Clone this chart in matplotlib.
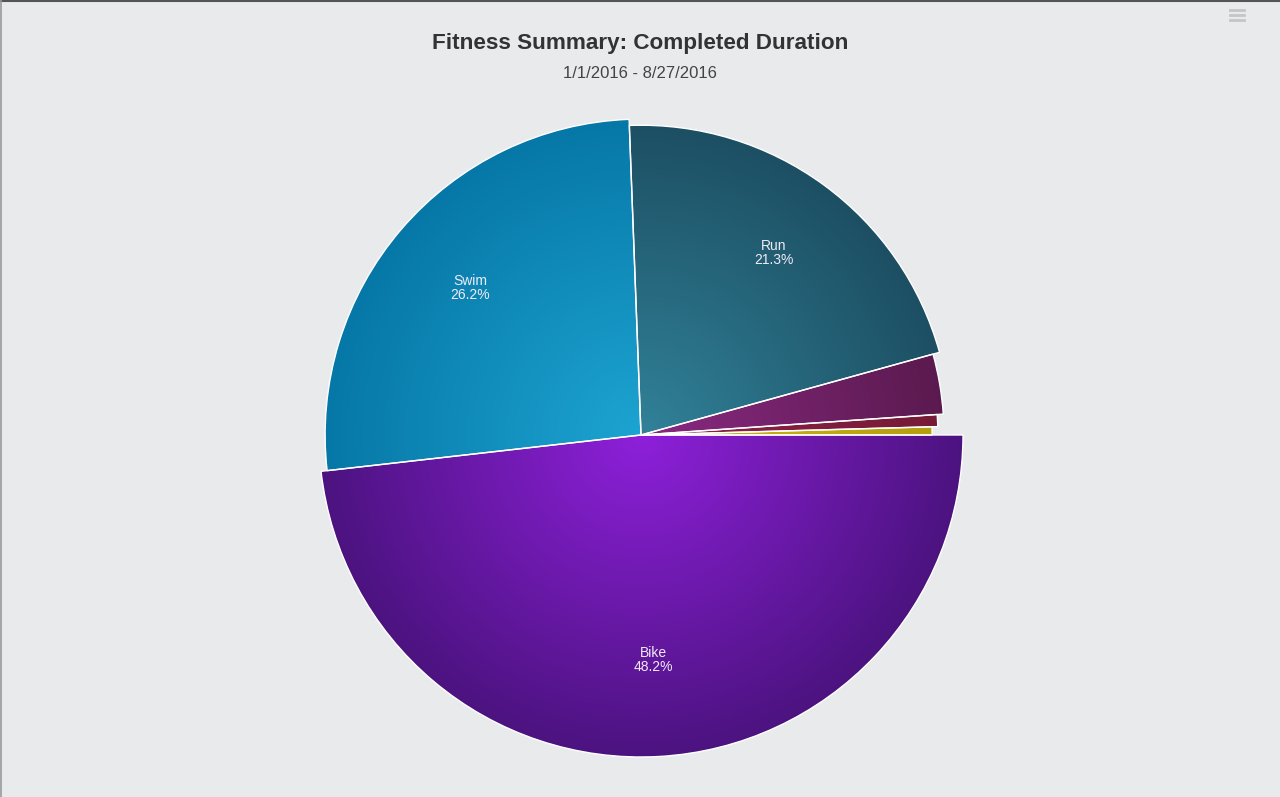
import matplotlib
matplotlib.use("Agg")
import matplotlib.pyplot as plt
from matplotlib.colors import to_rgb
from matplotlib.lines import Line2D
import numpy as np

# data
activities = ["Bike", "Swim", "Run", "Strength", "Other", "Yoga"]
share_pct = [48.2, 26.2, 21.3, 3.2, 0.65, 0.45]
show_label = [True, True, True, False, False, False]

TITLE = "Fitness Summary: Completed Duration"
SUBTITLE = "1/1/2016 - 8/27/2016"

# styling: (inner colour, outer colour) of the radial gradient per slice
GRADIENTS = [
    ("#8E20DA", "#4C1380"),
    ("#1DA4D2", "#0677A6"),
    ("#318299", "#1C4D61"),
    ("#8A2A82", "#58194C"),
    ("#902445", "#741A36"),
    ("#CDB81C", "#B39C0E"),
]
RADII = [1.0, 0.981, 0.962, 0.941, 0.922, 0.904]
BG = "#E9EAEC"
LABEL_R = 0.70

W, H = 1280, 797
fig = plt.figure(figsize=(W / 100, H / 100), dpi=100, facecolor=BG)

# pie axes: centre at (641, 435) px, radius 1.0 == 322 px
cx, cy, rpx, half = 641, 435, 322, 340
ax = fig.add_axes([(cx - half) / W, (H - cy - half) / H, 2 * half / W, 2 * half / H])
ax.set_facecolor(BG)

wedges, _ = ax.pie(share_pct, startangle=0, counterclock=False,
                   wedgeprops=dict(facecolor="none", edgecolor="white",
                                   linewidth=1.0, zorder=3))

lim = half / rpx
ax.set_xlim(-lim, lim)
ax.set_ylim(-lim, lim)
ax.set_aspect("equal")
ax.axis("off")

n = 700
xs = np.linspace(-1, 1, n)
X, Y = np.meshgrid(xs, xs)
dist = np.clip(np.hypot(X, Y), 0, 1)[..., None]

for w, r, (c0, c1) in zip(wedges, RADII, GRADIENTS):
    w.set_radius(r)
    inner = np.array(to_rgb(c0))
    outer = np.array(to_rgb(c1))
    img = inner * (1 - dist) + outer * dist
    im = ax.imshow(img, extent=(-1, 1, -1, 1), origin="lower",
                   interpolation="bilinear", zorder=2)
    im.set_clip_path(w)

for w, name, pct, lab in zip(wedges, activities, share_pct, show_label):
    if not lab:
        continue
    mid = np.deg2rad((w.theta1 + w.theta2) / 2)
    ax.text(LABEL_R * np.cos(mid), LABEL_R * np.sin(mid), f"{name}\n{pct:.1f}%",
            ha="center", va="center", fontsize=10, color="#F0EAF6",
            family="Liberation Sans", linespacing=0.95, zorder=5)

fig.text(0.5, 1 - 44 / H, TITLE, ha="center", va="center", fontsize=16.2,
         fontweight="bold", color="#333333", family="Liberation Sans")
fig.text(0.5, 1 - 73 / H, SUBTITLE, ha="center", va="center", fontsize=12,
         color="#444444", family="Liberation Sans")

# frame edges and menu icon
fig.add_artist(Line2D([0, 1], [1 - 0.5 / H, 1 - 0.5 / H], color="#555555", lw=1.5))
fig.add_artist(Line2D([0.5 / W, 0.5 / W], [0, 1], color="#999999", lw=1.2))
for yy in (10, 15, 20):
    fig.add_artist(Line2D([1230 / W, 1244 / W], [1 - yy / H, 1 - yy / H],
                          color="#C4C5C7", lw=2))

fig.savefig("out.png", dpi=100, facecolor=BG)
